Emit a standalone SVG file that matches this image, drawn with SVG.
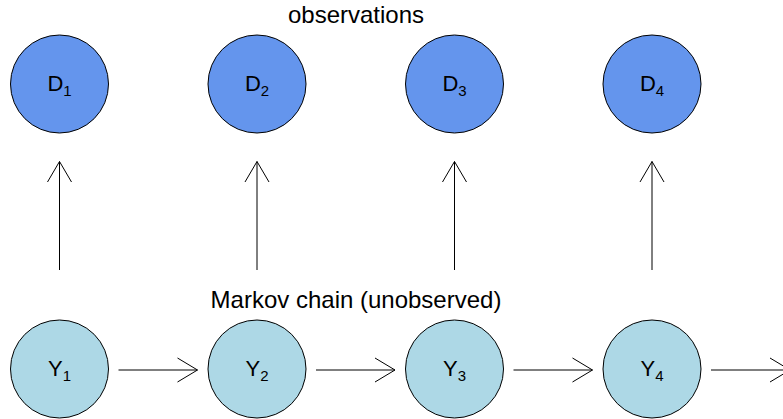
<svg xmlns="http://www.w3.org/2000/svg" width="783" height="419" viewBox="0 0 783 419">
  <style>
    .obs { fill: #6495ED; stroke: #000; stroke-width: 1; }
    .hid { fill: #ADD8E6; stroke: #000; stroke-width: 1; }
    .lbl { font-family: "Liberation Sans", Arial, sans-serif; font-size: 22px; fill: #000; text-anchor: middle; }
    .sub { font-size: 15px; }
    .title { font-family: "Liberation Sans", Arial, sans-serif; font-size: 24px; fill: #000; text-anchor: middle; }
    .edge { fill: none; stroke: #000; stroke-width: 1; }
  </style>
  <rect width="783" height="419" fill="#fff"/>

  <!-- section titles -->
  <text class="title" x="356" y="23">observations</text>
  <text class="title" x="356" y="308">Markov chain (unobserved)</text>

  <!-- observed nodes -->
  <g id="D1"><circle class="obs" cx="59.5" cy="84" r="49"/><text class="lbl" x="59.5" y="91">D<tspan class="sub" dy="5">1</tspan></text></g>
  <g id="D2"><circle class="obs" cx="257" cy="84" r="49"/><text class="lbl" x="257" y="91">D<tspan class="sub" dy="5">2</tspan></text></g>
  <g id="D3"><circle class="obs" cx="454.5" cy="84" r="49"/><text class="lbl" x="454.5" y="91">D<tspan class="sub" dy="5">3</tspan></text></g>
  <g id="D4"><circle class="obs" cx="652" cy="84" r="49"/><text class="lbl" x="652" y="91">D<tspan class="sub" dy="5">4</tspan></text></g>

  <!-- hidden chain nodes -->
  <g id="Y1"><circle class="hid" cx="59.5" cy="369" r="49"/><text class="lbl" x="59.5" y="376">Y<tspan class="sub" dy="5">1</tspan></text></g>
  <g id="Y2"><circle class="hid" cx="257" cy="369" r="49"/><text class="lbl" x="257" y="376">Y<tspan class="sub" dy="5">2</tspan></text></g>
  <g id="Y3"><circle class="hid" cx="454.5" cy="369" r="49"/><text class="lbl" x="454.5" y="376">Y<tspan class="sub" dy="5">3</tspan></text></g>
  <g id="Y4"><circle class="hid" cx="652" cy="369" r="49"/><text class="lbl" x="652" y="376">Y<tspan class="sub" dy="5">4</tspan></text></g>

  <!-- connectors: shaft plus open V head -->
  <g id="connectors" class="edge">
    <path d="M59.5 270V161.5M47.5 182L59.5 161.5L71.5 182"/>
    <path d="M257 270V161.5M245 182L257 161.5L269 182"/>
    <path d="M454.5 270V161.5M442.5 182L454.5 161.5L466.5 182"/>
    <path d="M652 270V161.5M640 182L652 161.5L664 182"/>

    <path d="M118.5 370H197.5M177.5 358L197.5 370L177.5 382"/>
    <path d="M316 370H395M375 358L395 370L375 382"/>
    <path d="M513.5 370H592.5M572.5 358L592.5 370L572.5 382"/>
    <path d="M711 370H790M770 358L790 370L770 382"/>
  </g>
</svg>
